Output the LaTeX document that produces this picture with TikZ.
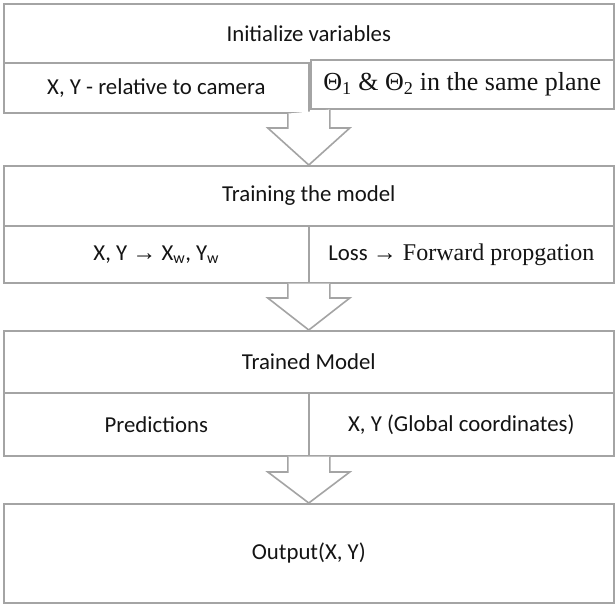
\documentclass[tikz,border=0pt]{standalone}
\usepackage{fontspec}
\setmainfont{Carlito}
\newfontfamily\serifft{Liberation Serif}
\newcommand\serifsz{\fontsize{24}{28}\selectfont}
\newcommand\serifbig{\fontsize{26}{30}\selectfont}
\usetikzlibrary{calc}
\definecolor{linegray}{HTML}{A4A4A4}
\definecolor{txt}{HTML}{141414}
\tikzset{
  box/.style={draw=linegray, line width=1.6pt, fill=white, rectangle, inner sep=0pt,
    text=txt, font=\fontsize{22.8}{26}\selectfont, anchor=north west},
  arr/.style={draw=linegray, line width=1.6pt, fill=white, line join=miter}
}
\newcommand\blkarrow[4]{% #1 left sub box corner, #2 target node (top), #3 head height, #4 right sub box corner
  \draw[arr] let \p1=(#1), \p2=(#2), \p3=(#4) in
    (\x2-21pt,\y1) -- (\x2-21pt,\y2+#3pt) -- (\x2-41pt,\y2+#3pt) -- (\p2)
    -- (\x2+41pt,\y2+#3pt) -- (\x2+21pt,\y2+#3pt) -- (\x2+21pt,\y3);}
\begin{document}
\begin{tikzpicture}[x=1pt,y=-1pt]
\useasboundingbox[fill=white] (0,0) rectangle (616,605);
% Block 1
\node[box, minimum width=610pt, minimum height=59pt] (h1) at (3,3) {Initialize variables};
\node[box, minimum width=305pt, minimum height=50pt] (l1) at (3,62) {X, Y - relative to camera};
\node[box, minimum width=303pt, minimum height=49pt] (r1) at (310,59)
  {\serifft\serifbig Θ\textsubscript{1} \& Θ\textsubscript{2} in the same plane};
% Block 2
\node[box, minimum width=610pt, minimum height=60pt] (h2) at (3,165) {Training the model};
\node[box, minimum width=305pt, minimum height=57pt] (l2) at (3,225)
  {X, Y {\serifft\serifsz →} X\textsubscript{w}, Y\textsubscript{w}};
\node[box, minimum width=305pt, minimum height=57pt] (r2) at (308,225)
  {Loss {\serifft\serifsz → Forward propgation}};
% Block 3
\node[box, minimum width=610pt, minimum height=62pt] (h3) at (3,330) {Trained Model};
\node[box, minimum width=305pt, minimum height=63pt] (l3) at (3,392) {Predictions};
\node[box, minimum width=305pt, minimum height=63pt] (r3) at (308,392) {X, Y (Global coordinates)};
% Block 4
\node[box, minimum width=610pt, minimum height=99pt] (h4) at (3,503) {Output(X, Y)};
% Block arrows
\blkarrow{l1.south east}{h2.north}{37}{r1.south west}
\blkarrow{l2.south east}{h3.north}{32}{r2.south west}
\blkarrow{l3.south east}{h4.north}{31}{r3.south west}
\end{tikzpicture}
\end{document}
